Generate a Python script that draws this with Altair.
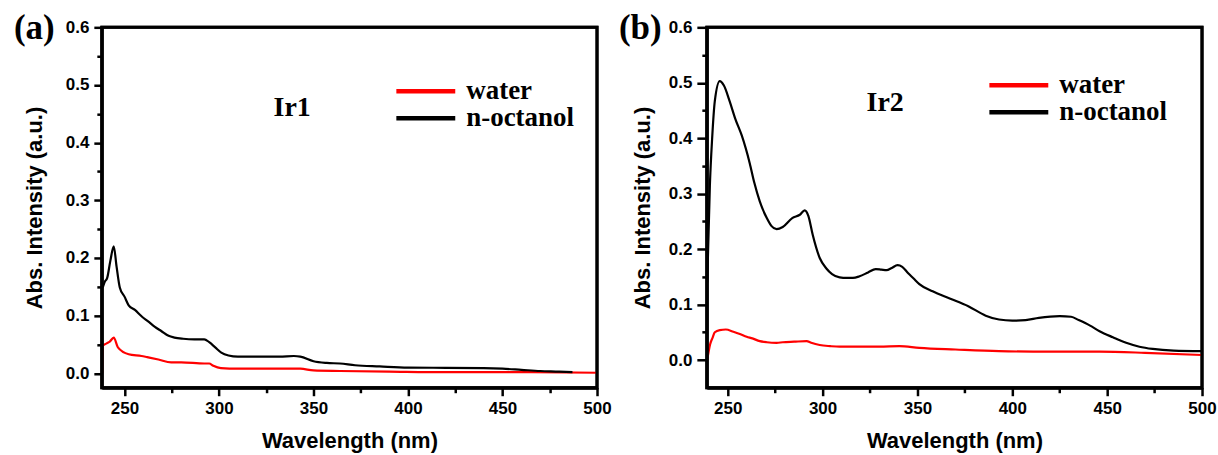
import altair as alt
import pandas as pd

# ---- Ir1 absorption spectra -------------------------------------------
ir1_water_nm = [238.2, 238.5, 240.6, 242.2, 244.3, 246.5, 252.2, 259, 262, 267.9,
                274.7, 280, 292.2, 294.8, 297, 301, 310, 322, 343, 350, 364, 390,
                420, 460, 500]
ir1_water_abs = [0.0, 0.048, 0.052, 0.055, 0.062, 0.045, 0.033, 0.030, 0.028, 0.024,
                 0.019, 0.019, 0.017, 0.017, 0.013, 0.009, 0.008, 0.008, 0.008, 0.005,
                 0.004, 0.003, 0.002, 0.002, 0.001]
ir1_oct_nm = [238.5, 239.6, 240.8, 242.5, 244.3, 245.8, 247.5, 250, 252.2, 255.5, 259,
              262.5, 265.9, 269.6, 273.3, 276.4, 281, 287, 292.2, 294.8, 298, 301.2,
              305, 310, 322, 332, 339.6, 343, 350, 357, 364, 372, 385, 400, 420, 440,
              450, 460, 470, 480, 487]
ir1_oct_abs = [0.149, 0.159, 0.165, 0.195, 0.220, 0.185, 0.149, 0.133, 0.118, 0.110,
               0.099, 0.090, 0.081, 0.073, 0.065, 0.062, 0.060, 0.059, 0.059, 0.054,
               0.045, 0.036, 0.031, 0.029, 0.029, 0.029, 0.030, 0.029, 0.021, 0.018,
               0.017, 0.014, 0.012, 0.010, 0.0095, 0.009, 0.008, 0.006, 0.004, 0.003,
               0.002]

# ---- Ir2 absorption spectra -------------------------------------------
ir2_water_nm = [239.2, 240.7, 242, 243.2, 245.8, 249, 253, 256.4, 260, 263, 266.9,
                270.6, 275.8, 279, 285, 291.6, 294, 298.5, 304, 309, 320, 330, 340.5,
                351, 370, 393, 420, 446, 470, 500]
ir2_water_abs = [0.0, 0.028, 0.040, 0.050, 0.054, 0.055, 0.051, 0.047, 0.042, 0.039,
                 0.034, 0.032, 0.031, 0.032, 0.033, 0.034, 0.031, 0.027, 0.025, 0.024,
                 0.024, 0.024, 0.025, 0.022, 0.019, 0.016, 0.015, 0.015, 0.013, 0.009]
ir2_oct_nm = [239.2, 240.6, 241.8, 243.2, 245.8, 248, 251, 254, 257.4, 261.6, 264,
              266.9, 270.6, 273, 275.8, 279, 284, 288, 290.6, 292.5, 294.8, 298.5, 302,
              305, 309, 312.7, 316, 319.5, 324, 328, 331, 333.7, 336.5, 339.5, 342, 345,
              348, 351, 358, 367, 376.8, 386, 393, 400, 407, 414, 425, 431, 435, 441,
              446, 453, 460, 467, 474, 485, 500]
ir2_oct_abs = [0.14, 0.315, 0.40, 0.467, 0.503, 0.495, 0.467, 0.435, 0.405, 0.355,
               0.32, 0.286, 0.256, 0.242, 0.236, 0.240, 0.256, 0.262, 0.270, 0.260,
               0.226, 0.184, 0.165, 0.155, 0.149, 0.148, 0.148, 0.151, 0.158, 0.164,
               0.163, 0.162, 0.166, 0.171, 0.168, 0.157, 0.147, 0.137, 0.124, 0.111,
               0.097, 0.080, 0.073, 0.071, 0.072, 0.076, 0.079, 0.078, 0.072, 0.062,
               0.052, 0.041, 0.031, 0.024, 0.020, 0.017, 0.016]

series_names = ["water", "n-octanol"]
series_colors = ["#ff0000", "#000000"]

x_major = [250, 300, 350, 400, 450, 500]
x_minor = [275, 325, 375, 425, 475]
y_major = [0.0, 0.1, 0.2, 0.3, 0.4, 0.5, 0.6]
y_minor = [0.05, 0.15, 0.25, 0.35, 0.45, 0.55]

SANS = "Liberation Sans"
SERIF = "Liberation Serif"
PANEL_W = 496
FRAME_W = 3


def spectra(nm_w, abs_w, nm_o, abs_o):
    water = pd.DataFrame({"nm": nm_w, "abs": abs_w, "solvent": series_names[0]})
    octanol = pd.DataFrame({"nm": nm_o, "abs": abs_o, "solvent": series_names[1]})
    return pd.concat([water, octanol], ignore_index=True)


def major_x_axis():
    return alt.Axis(values=x_major, orient="bottom", grid=False, tickSize=8, tickWidth=2.5,
                    tickColor="black", domain=True, domainColor="#000000",
                    domainWidth=FRAME_W,
                    labelFont=SANS, labelFontSize=17, labelFontWeight="bold",
                    labelColor="black", labelPadding=5, labelFlush=False,
                    title="Wavelength (nm)", titleFont=SANS, titleFontSize=22,
                    titleFontWeight="bold", titleColor="black",
                    titleBaseline="alphabetic", titleY=60, zindex=2)


def major_y_axis(h, tick, title_x):
    return alt.Axis(values=y_major, format=".1f", orient="left", grid=False, tickSize=tick,
                    tickWidth=2.5, tickColor="black", domain=True, domainColor="#000000",
                    domainWidth=FRAME_W,
                    labelFont=SANS, labelFontSize=17, labelFontWeight="bold",
                    labelColor="black", labelPadding=5, labelFlush=False,
                    title="Abs. Intensity (a.u.)", titleFont=SANS, titleFontSize=22,
                    titleFontWeight="bold", titleColor="black",
                    titleBaseline="alphabetic", titleX=title_x, titleY=h / 2, zindex=2)


def minor_axis(values, orient):
    return alt.Axis(values=values, orient=orient, grid=False, tickSize=5, tickWidth=2.5,
                    tickColor="black", labels=False, domain=False, title=None, zindex=2)


def panel(df, x_dom, y_dom, h, letter, compound, compound_xy, legend_xy, ytick, title_x):
    xs = alt.Scale(domain=x_dom, nice=False, zero=False)
    ys = alt.Scale(domain=y_dom, nice=False, zero=False)
    colors = alt.Scale(domain=series_names, range=series_colors)
    base = alt.Chart(df)

    minor = base.mark_line(opacity=0).encode(
        x=alt.X("nm:Q", scale=xs, axis=minor_axis(x_minor, "bottom")),
        y=alt.Y("abs:Q", scale=ys, axis=minor_axis(y_minor, "left")),
    )
    water = base.transform_filter(alt.datum.solvent == "water").mark_line(
        strokeWidth=2.2, interpolate="monotone").encode(
        x=alt.X("nm:Q", scale=xs, axis=major_x_axis()),
        y=alt.Y("abs:Q", scale=ys, axis=major_y_axis(h, ytick, title_x)),
        color=alt.Color("solvent:N", scale=colors, legend=None),
    )
    octanol = base.transform_filter(alt.datum.solvent == "n-octanol").mark_line(
        strokeWidth=2.2, interpolate="monotone").encode(
        x=alt.X("nm:Q", scale=xs, axis=None),
        y=alt.Y("abs:Q", scale=ys, axis=None),
        color=alt.Color("solvent:N", scale=colors, legend=None),
    )

    # box around the plotting area
    frame = alt.Chart(pd.DataFrame({"t": ["frame"]})).mark_rect(
        fillOpacity=0, stroke="#000000", strokeWidth=FRAME_W, strokeOpacity=1).encode(
        x=alt.value(0), x2=alt.value(PANEL_W), y=alt.value(0), y2=alt.value(h))

    letter_txt = alt.Chart(pd.DataFrame({"t": [letter]})).mark_text(
        font=SERIF, fontSize=35, fontWeight="bold", align="left",
        baseline="alphabetic", color="black").encode(
        text="t:N", x=alt.value(-88), y=alt.value(12))
    compound_txt = alt.Chart(pd.DataFrame({"t": [compound]})).mark_text(
        font=SERIF, fontSize=28, fontWeight="bold", align="left",
        baseline="alphabetic", color="black").encode(
        text="t:N", x=alt.value(compound_xy[0]), y=alt.value(compound_xy[1]))

    layers = [minor, water, octanol, frame, letter_txt, compound_txt]
    lx, ly = legend_xy
    for i, (name, col) in enumerate(zip(series_names, series_colors)):
        row_y = ly + 27 * i
        layers.append(
            alt.Chart(pd.DataFrame({"t": [name]})).mark_rule(
                strokeWidth=4.5, color=col).encode(
                x=alt.value(lx), x2=alt.value(lx + 59), y=alt.value(row_y)))
        layers.append(
            alt.Chart(pd.DataFrame({"t": [name]})).mark_text(
                font=SERIF, fontSize=27, fontWeight="bold", align="left",
                baseline="alphabetic", color="black").encode(
                text="t:N", x=alt.value(lx + 70), y=alt.value(row_y + 8)))

    return alt.layer(*layers).resolve_axis(x="independent", y="independent").properties(
        width=PANEL_W, height=h)


panel_a = panel(spectra(ir1_water_nm, ir1_water_abs, ir1_oct_nm, ir1_oct_abs),
                [238, 500], [-0.025, 0.6], 361, "(a)", "Ir1", (172, 89), (295, 64), 8, -60)
panel_b = panel(spectra(ir2_water_nm, ir2_water_abs, ir2_oct_nm, ir2_oct_abs),
                [239, 500], [-0.05, 0.6], 361, "(b)", "Ir2", (160, 84), (283, 58), 10, -57)

chart = alt.hconcat(panel_a, panel_b, spacing=110, bounds="flush").properties(
    padding={"left": 12, "top": 9, "right": 0, "bottom": 0},
    background="white",
).configure_view(stroke="#000000", strokeWidth=FRAME_W, strokeOpacity=1)

chart.save("out.html", embed_options={"renderer": "svg", "actions": False})
